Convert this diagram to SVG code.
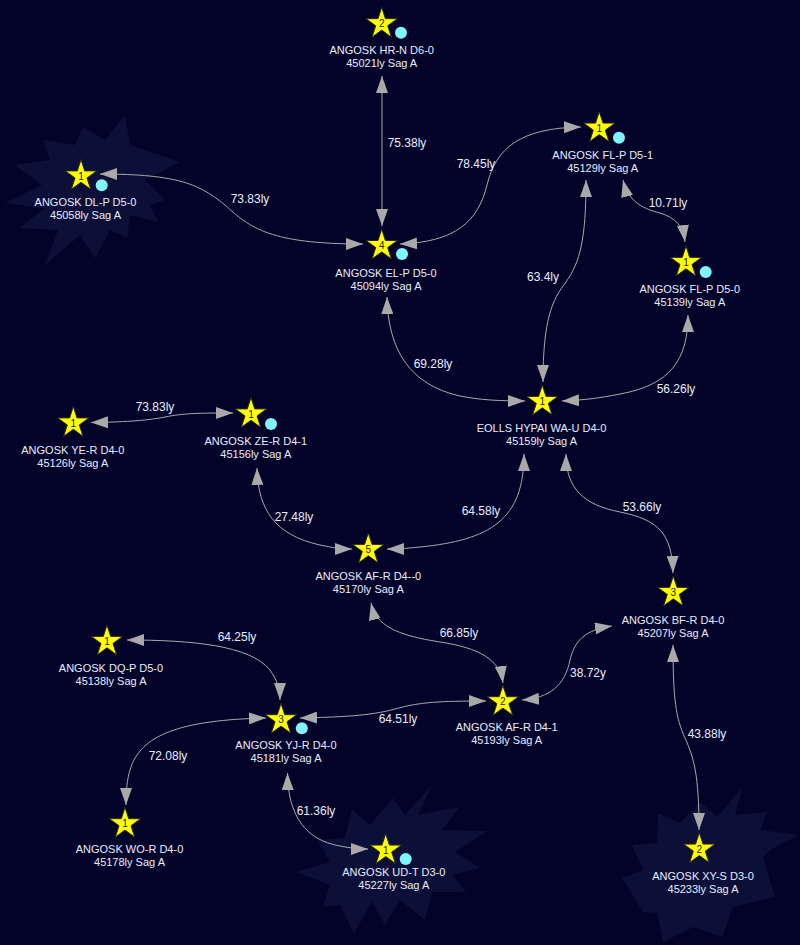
<svg xmlns="http://www.w3.org/2000/svg" width="800" height="945" viewBox="0 0 800 945">
<defs>
<style>
.nl{font-family:"Liberation Sans",Arial,sans-serif;font-size:11px;fill:#e8ecff;text-anchor:middle}
.el{font-family:"Liberation Sans",Arial,sans-serif;font-size:12px;fill:#e8ecff;text-anchor:middle}
.num{font-family:"Liberation Sans",Arial,sans-serif;font-size:10px;fill:#222;text-anchor:middle}
.star{fill:#ffff00;stroke:#2a2a10;stroke-width:1}
.dot{fill:#80f4ff}
.edge{fill:none;stroke:#a8a8a8;stroke-width:1;marker-start:url(#ah);marker-end:url(#ah)}
.neb{fill:#0c1038}
</style>
<path id="star" d="M0,-16.5 L3.7,-5.1 L15.69,-5.1 L5.99,1.95 L9.7,13.35 L0,6.3 L-9.7,13.35 L-5.99,1.95 L-15.69,-5.1 L-3.7,-5.1 Z"/>
<marker id="ah" markerUnits="userSpaceOnUse" markerWidth="17" markerHeight="12" viewBox="0 0 17 12" refX="17" refY="6" orient="auto-start-reverse"><path d="M0,0 L17,6 L0,12 Z" fill="#a9a9a9"/></marker>
</defs>
<rect width="800" height="945" fill="#03032a"/>
<g id="nebulae">
<polygon class="neb" points="125,115 130,145 180,162 145,180 165,200 150,205 158,222 130,215 127,238 110,230 95,258 80,235 45,265 58,230 20,228 45,208 5,203 42,185 15,165 50,160 43,140 75,145 83,127 105,140"/>
<polygon class="neb" points="432,785 418,815 459,807 442,830 487,831 455,852 480,868 452,875 466,892 432,892 425,920 400,900 385,925 372,902 354,933 340,905 323,907 330,885 296,872 330,862 318,840 345,838 352,810 370,825 393,798 405,815"/>
<polygon class="neb" points="742,788 735,815 767,812 760,830 798,835 770,850 763,857 775,897 733,907 722,937 693,927 663,942 657,913 643,912 622,878 643,870 632,845 657,843 658,813 680,823 700,802 717,817"/>
</g>
<g id="connectors">
<g id="e1"><path class="edge" d="M382,76 L382,226"/><text class="el" x="407" y="147">75.38ly</text></g>
<g id="e2"><path class="edge" d="M100,174 C180,174 200,185 225,205 C250,228 270,244 363,244"/><text class="el" x="250" y="203">73.83ly</text></g>
<g id="e3"><path class="edge" d="M400,244 C455,242 478,222 487,185 C496,148 520,128 581,127"/><text class="el" x="476" y="168">78.45ly</text></g>
<g id="e4"><path class="edge" d="M623,180 C628,200 640,208 660,213 C676,218 683,226 685,242"/><text class="el" x="668" y="207">10.71ly</text></g>
<g id="e5"><path class="edge" d="M586,180 C586,240 580,262 566,282 C552,300 543,320 543,382"/><text class="el" x="543" y="281">63.4ly</text></g>
<g id="e6"><path class="edge" d="M387,297 C388,350 410,385 460,396 C480,400 500,401 525,401"/><text class="el" x="433" y="368">69.28ly</text></g>
<g id="e7"><path class="edge" d="M688,315 C688,360 670,385 620,394 C600,398 585,400 562,401"/><text class="el" x="676" y="393">56.26ly</text></g>
<g id="e8"><path class="edge" d="M91,422.5 C130,422 150,420 165,417 C185,413 200,413 233,413"/><text class="el" x="155" y="411">73.83ly</text></g>
<g id="e9"><path class="edge" d="M257,468 C258,510 275,535 320,545 C335,548 340,549 352,549"/><text class="el" x="294" y="521">27.48ly</text></g>
<g id="e10"><path class="edge" d="M524,454 C524,520 490,540 420,547 C405,548.5 398,549 387,549"/><text class="el" x="481" y="515">64.58ly</text></g>
<g id="e11"><path class="edge" d="M566,454 C566,490 585,505 620,512 C660,520 672,535 673,573"/><text class="el" x="642" y="511">53.66ly</text></g>
<g id="e12"><path class="edge" d="M371,603 C376,625 395,635 440,642 C480,648 500,660 503,683"/><text class="el" x="459" y="637">66.85ly</text></g>
<g id="e13"><path class="edge" d="M522,700 C550,698 565,685 570,660 C575,640 585,630 612,626"/><text class="el" x="588" y="677">38.72y</text></g>
<g id="e14"><path class="edge" d="M673,645 C673,700 676,718 685,738 C694,758 699,775 699,830"/><text class="el" x="707" y="738">43.88ly</text></g>
<g id="e15"><path class="edge" d="M127,640 C190,640 250,645 270,670 C277,680 280,688 280,700"/><text class="el" x="237" y="641">64.25ly</text></g>
<g id="e16"><path class="edge" d="M300,718 C340,717 370,716 395,709 C420,702 440,701 486,701"/><text class="el" x="398" y="723">64.51ly</text></g>
<g id="e17"><path class="edge" d="M266,718 C180,720 140,735 130,770 C127,780 126,790 126,805"/><text class="el" x="168" y="760">72.08ly</text></g>
<g id="e18"><path class="edge" d="M287.5,773 C288,815 305,840 340,846 C350,848 358,849 368,849"/><text class="el" x="316" y="815">61.36ly</text></g>
</g>
<g id="n-hrn"><use href="#star" class="star" transform="translate(381.7,23.8)"/><text class="num" x="381.7" y="27.3">2</text><circle class="dot" cx="401" cy="32.7" r="6"/><text class="nl" x="381.7" y="54">ANGOSK HR-N D6-0</text><text class="nl" x="381.7" y="67">45021ly Sag A</text></g>
<g id="n-dlp"><use href="#star" class="star" transform="translate(81,176)"/><text class="num" x="81" y="179.5">1</text><circle class="dot" cx="101.7" cy="185.3" r="6"/><text class="nl" x="85.5" y="206">ANGOSK DL-P D5-0</text><text class="nl" x="85.5" y="219">45058ly Sag A</text></g>
<g id="n-elp"><use href="#star" class="star" transform="translate(381.7,245.6)"/><text class="num" x="381.7" y="249.1">4</text><circle class="dot" cx="402" cy="254" r="6"/><text class="nl" x="386" y="276.5">ANGOSK EL-P D5-0</text><text class="nl" x="386" y="289.5">45094ly Sag A</text></g>
<g id="n-flp1"><use href="#star" class="star" transform="translate(599.3,128.2)"/><text class="num" x="599.3" y="131.7">1</text><circle class="dot" cx="619" cy="137.7" r="6"/><text class="nl" x="602.7" y="158.7">ANGOSK FL-P D5-1</text><text class="nl" x="602.7" y="171.7">45129ly Sag A</text></g>
<g id="n-flp0"><use href="#star" class="star" transform="translate(686,262.5)"/><text class="num" x="686" y="266">1</text><circle class="dot" cx="705.7" cy="272" r="6"/><text class="nl" x="689.8" y="292.7">ANGOSK FL-P D5-0</text><text class="nl" x="689.8" y="305.7">45139ly Sag A</text></g>
<g id="n-eolls"><use href="#star" class="star" transform="translate(542.3,401.5)"/><text class="num" x="542.3" y="405">1</text><text class="nl" x="541.5" y="431.7">EOLLS HYPAI WA-U D4-0</text><text class="nl" x="541.5" y="444.7">45159ly Sag A</text></g>
<g id="n-yer"><use href="#star" class="star" transform="translate(73.3,423)"/><text class="num" x="73.3" y="426.5">1</text><text class="nl" x="72.8" y="454">ANGOSK YE-R D4-0</text><text class="nl" x="72.8" y="467">45126ly Sag A</text></g>
<g id="n-zer"><use href="#star" class="star" transform="translate(251,414)"/><text class="num" x="251" y="417.5">1</text><circle class="dot" cx="271" cy="424" r="6"/><text class="nl" x="255.8" y="445.3">ANGOSK ZE-R D4-1</text><text class="nl" x="255.8" y="458.3">45156ly Sag A</text></g>
<g id="n-afr0"><use href="#star" class="star" transform="translate(368.3,549.5)"/><text class="num" x="368.3" y="553">5</text><text class="nl" x="368.3" y="580">ANGOSK AF-R D4--0</text><text class="nl" x="368.3" y="593">45170ly Sag A</text></g>
<g id="n-bfr"><use href="#star" class="star" transform="translate(673.3,592.5)"/><text class="num" x="673.3" y="596">3</text><text class="nl" x="673" y="623.7">ANGOSK BF-R D4-0</text><text class="nl" x="673" y="636.7">45207ly Sag A</text></g>
<g id="n-dqp"><use href="#star" class="star" transform="translate(107,641.5)"/><text class="num" x="107" y="645">1</text><text class="nl" x="111" y="671.7">ANGOSK DQ-P D5-0</text><text class="nl" x="111" y="684.7">45138ly Sag A</text></g>
<g id="n-yjr"><use href="#star" class="star" transform="translate(281,719.8)"/><text class="num" x="281" y="723.3">3</text><circle class="dot" cx="301.8" cy="728.3" r="6"/><text class="nl" x="286" y="749.3">ANGOSK YJ-R D4-0</text><text class="nl" x="286" y="762.3">45181ly Sag A</text></g>
<g id="n-afr1"><use href="#star" class="star" transform="translate(502.9,701.8)"/><text class="num" x="502.9" y="705.3">2</text><text class="nl" x="506.7" y="731">ANGOSK AF-R D4-1</text><text class="nl" x="506.7" y="744">45193ly Sag A</text></g>
<g id="n-wor"><use href="#star" class="star" transform="translate(125,823.8)"/><text class="num" x="125" y="827.3">1</text><text class="nl" x="129.5" y="853.3">ANGOSK WO-R D4-0</text><text class="nl" x="129.5" y="866.3">45178ly Sag A</text></g>
<g id="n-udt"><use href="#star" class="star" transform="translate(385.7,850.2)"/><text class="num" x="385.7" y="853.7">1</text><circle class="dot" cx="405.7" cy="859" r="6"/><text class="nl" x="393.8" y="876">ANGOSK UD-T D3-0</text><text class="nl" x="393.8" y="889">45227ly Sag A</text></g>
<g id="n-xys"><use href="#star" class="star" transform="translate(699.3,849.2)"/><text class="num" x="699.3" y="852.7">2</text><text class="nl" x="703" y="880">ANGOSK XY-S D3-0</text><text class="nl" x="703" y="893">45233ly Sag A</text></g>
</svg>
